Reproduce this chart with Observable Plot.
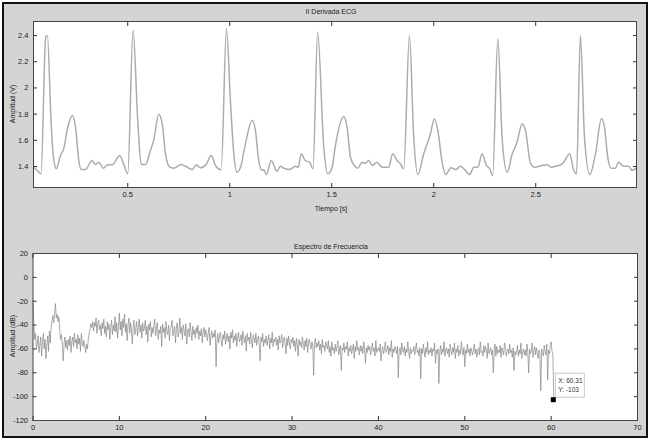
<!DOCTYPE html>
<html><head><meta charset="utf-8">
<script src="https://cdn.jsdelivr.net/npm/d3@7"></script>
<script src="https://cdn.jsdelivr.net/npm/@observablehq/plot@0.6"></script>
<style>
html,body{margin:0;padding:0;background:#fff;}
#fig{position:relative;width:650px;height:440px;overflow:hidden;background:#fff;}
#panel{position:absolute;left:2px;top:2px;width:642px;height:432px;border:2px solid #111;background:#d4d4d4;}
.lbl{position:absolute;font-family:"Liberation Sans",Arial,sans-serif;font-size:7px;color:#222;white-space:nowrap;transform:translate(-50%,-50%);}
.rot{transform:translate(-50%,-50%) rotate(-90deg);}
#fig svg{position:absolute;left:0;}
</style></head>
<body>
<div id="fig"><div id="panel"></div></div>
<script>
// ---- Top panel: II Derivada ECG ----
const ecgTitle = "II Derivada ECG";
const ecgXLabel = "Tiempo [s]";
const ecgYLabel = "Amplitud (V)";
const ecgXTicks = [0.5, 1, 1.5, 2, 2.5];
const ecgYTicks = [1.4, 1.6, 1.8, 2, 2.2, 2.4];
const ecgTime = [0.039,0.056,0.075,0.098,0.106,0.124,0.134,0.150,0.170,0.186,0.206,0.228,0.244,0.260,0.272,0.293,0.325,0.342,0.358,0.380,0.402,0.424,0.461,0.480,0.500,
 0.526,0.549,0.566,0.587,0.611,0.627,0.652,0.669,0.685,0.706,0.725,0.762,0.783,0.816,0.837,0.856,0.886,0.909,0.930,0.958,
 0.984,1.004,1.020,1.034,1.053,1.072,1.110,1.126,1.142,1.159,1.167,1.180,1.203,1.232,1.248,1.265,1.294,1.322,1.335,1.351,1.370,1.392,1.408,
 1.431,1.461,1.480,1.502,1.518,1.559,1.575,1.592,1.611,1.627,1.649,1.665,1.681,1.698,1.722,1.747,1.779,1.799,1.820,1.837,1.853,
 1.881,1.902,1.922,1.951,1.984,2.003,2.020,2.041,2.058,2.085,2.107,2.131,2.151,2.177,2.196,2.216,2.237,2.258,2.275,2.289,
 2.314,2.336,2.360,2.385,2.406,2.434,2.450,2.475,2.495,2.531,2.556,2.575,2.597,2.630,2.667,2.684,2.700,
 2.719,2.739,2.765,2.793,2.822,2.837,2.853,2.870,2.890,2.907,2.931,2.956,2.972,2.994];
const ecgVolt = [1.395,1.37,1.344,2.39,2.40,1.75,1.497,1.383,1.484,1.535,1.70,1.79,1.70,1.446,1.377,1.377,1.446,1.415,1.433,1.387,1.413,1.413,1.484,1.42,1.344,
 2.443,1.751,1.42,1.415,1.522,1.60,1.80,1.726,1.497,1.395,1.387,1.415,1.402,1.377,1.413,1.39,1.42,1.484,1.408,1.375,
 2.451,1.879,1.497,1.357,1.395,1.535,1.751,1.675,1.446,1.37,1.375,1.339,1.446,1.364,1.402,1.387,1.377,1.402,1.395,1.497,1.446,1.433,1.383,
 2.425,1.547,1.344,1.395,1.56,1.782,1.70,1.471,1.408,1.387,1.433,1.425,1.446,1.408,1.433,1.395,1.395,1.497,1.446,1.42,1.383,
 2.40,1.624,1.339,1.497,1.65,1.764,1.675,1.433,1.339,1.39,1.377,1.402,1.377,1.339,1.395,1.395,1.497,1.408,1.383,1.331,
 2.375,1.60,1.357,1.497,1.573,1.726,1.675,1.42,1.395,1.408,1.413,1.395,1.402,1.42,1.497,1.383,1.344,
 2.40,1.624,1.339,1.497,1.764,1.70,1.471,1.387,1.387,1.433,1.402,1.402,1.37,1.39];

// ---- Bottom panel: Espectro de Frecuencia ----
const specTitle = "Espectro de Frecuencia";
const specYLabel = "Amplitud (dB)";
const specXTicks = [0, 10, 20, 30, 40, 50, 60, 70];
const specYTicks = [-120, -100, -80, -60, -40, -20, 0, 20];
const specStep = 0.1; // Hz between spectrum samples, one row = 1 Hz
const specDb = [
 -22,-40,-52,-47,-60,-55,-49,-63,-56,-50,
 -66,-54,-47,-60,-52,-68,-57,-49,-62,-45,
 -55,-42,-36,-32,-38,-30,-22,-34,-31,-37,
 -33,-45,-52,-48,-57,-70,-55,-50,-59,-53,
 -61,-52,-57,-49,-63,-54,-50,-58,-47,-55,
 -52,-60,-48,-56,-51,-62,-47,-55,-58,-53,
 -58,-63,-56,-60,-52,-47,-44,-39,-42,-37,
 -45,-38,-41,-34,-47,-39,-36,-44,-40,-49,
 -38,-43,-35,-47,-41,-50,-37,-44,-39,-52,
 -42,-36,-48,-40,-45,-33,-46,-38,-51,-41,
 -30,-44,-37,-49,-35,-42,-31,-46,-39,-53,
 -40,-34,-47,-38,-44,-56,-41,-36,-48,-43,
 -37,-49,-42,-35,-46,-40,-51,-38,-45,-43,
 -36,-48,-41,-54,-39,-44,-37,-50,-42,-47,
 -40,-35,-49,-43,-38,-52,-44,-47,-41,-58,
 -39,-46,-42,-51,-37,-45,-48,-40,-53,-44,
 -42,-36,-49,-45,-41,-55,-43,-38,-50,-46,
 -34,-47,-42,-52,-40,-45,-49,-39,-56,-44,
 -43,-50,-38,-46,-53,-41,-48,-44,-51,-42,
 -47,-40,-52,-45,-49,-43,-55,-46,-42,-50,
 -44,-48,-53,-46,-42,-57,-49,-45,-51,-47,
 -50,-44,-75,-52,-47,-55,-49,-46,-53,-58,
 -48,-52,-45,-56,-50,-47,-54,-49,-60,-46,
 -51,-44,-55,-49,-53,-47,-58,-50,-46,-54,
 -52,-48,-57,-45,-51,-55,-49,-62,-47,-53,
 -50,-56,-46,-53,-59,-48,-51,-55,-47,-57,
 -52,-49,-56,-70,-50,-54,-47,-58,-52,-55,
 -49,-57,-53,-48,-60,-51,-55,-46,-58,-52,
 -54,-50,-57,-52,-61,-49,-55,-53,-48,-59,
 -53,-50,-56,-64,-51,-57,-49,-55,-60,-52,
 -55,-50,-58,-53,-62,-51,-56,-66,-52,-57,
 -54,-59,-50,-56,-61,-53,-58,-51,-63,-55,
 -52,-57,-60,-54,-58,-82,-56,-51,-59,-55,
 -58,-53,-61,-56,-64,-52,-59,-57,-62,-54,
 -57,-60,-53,-63,-58,-66,-54,-61,-59,-64,
 -56,-62,-58,-53,-65,-60,-57,-78,-59,-61,
 -55,-63,-58,-60,-54,-66,-59,-62,-57,-64,
 -60,-56,-68,-58,-62,-53,-61,-59,-65,-57,
 -62,-58,-64,-54,-60,-72,-59,-63,-57,-61,
 -58,-65,-60,-55,-62,-59,-66,-53,-63,-60,
 -59,-62,-56,-70,-61,-58,-64,-60,-54,-63,
 -61,-57,-65,-59,-62,-53,-67,-60,-63,-58,
 -60,-64,-58,-84,-62,-59,-65,-55,-61,-63,
 -58,-66,-60,-63,-54,-62,-68,-59,-64,-61,
 -62,-58,-65,-60,-55,-63,-61,-66,-59,-85,
 -60,-64,-56,-62,-67,-59,-63,-54,-65,-61,
 -63,-59,-66,-60,-62,-55,-72,-61,-64,-60,
 -89,-62,-57,-65,-60,-63,-54,-66,-61,-59,
 -64,-60,-67,-56,-62,-65,-59,-63,-55,-68,
 -60,-63,-57,-66,-61,-64,-54,-62,-65,-59,
 -75,-61,-64,-56,-63,-60,-66,-59,-62,-65,
 -61,-56,-64,-60,-67,-62,-59,-65,-54,-63,
 -62,-66,-57,-63,-58,-61,-68,-55,-64,-62,
 -59,-65,-61,-80,-63,-56,-66,-58,-64,-61,
 -63,-57,-67,-59,-62,-65,-55,-58,-66,-62,
 -60,-64,-56,-63,-61,-67,-59,-78,-62,-65,
 -63,-57,-66,-61,-64,-55,-68,-62,-60,-65,
 -61,-66,-56,-63,-80,-60,-64,-62,-55,-67,
 -62,-58,-65,-59,-63,-68,-61,-64,-95,-60,
 -63,-66,-57,-62,-65,-56,-86,-61,-64,-57,
 -54,-62,-64];
const tipX = [60.31];
const tipY = [-103];
const tipLabel = ["X: 60.31", "Y: -103"];

const specFreq = specDb.map((_, i) => +(i * specStep).toFixed(2)).concat(tipX);
const specVals = specDb.concat(tipY);

const font = '"Liberation Sans", Arial, sans-serif';
const baseStyle = {background: "transparent", fontFamily: font, fontSize: "7.5px", color: "#222", overflow: "visible"};
const fmt = d => String(d);

function axes(xt, yt) {
  return [
    Plot.axisX(xt, {anchor: "bottom", tickSize: -4, tickPadding: 8, tickFormat: fmt, label: null, stroke: "#333"}),
    Plot.axisX(xt, {anchor: "top", tickSize: -4, tickFormat: () => "", label: null, stroke: "#333"}),
    Plot.axisY(yt, {anchor: "left", tickSize: -4, tickPadding: 9, tickFormat: fmt, label: null, stroke: "#333"}),
    Plot.axisY(yt, {anchor: "right", tickSize: -4, tickFormat: () => "", label: null, stroke: "#333"})
  ];
}

const topChart = Plot.plot({
  width: 650, height: 220,
  marginTop: 21, marginBottom: 33, marginLeft: 33, marginRight: 14,
  style: baseStyle,
  x: {domain: [0.038, 2.994]},
  y: {domain: [1.24, 2.507]},
  marks: [
    Plot.frame({fill: "white"}),
    Plot.line(ecgVolt, {x: ecgTime, y: ecgVolt, stroke: "#acacac", strokeWidth: 1.5, curve: "monotone-x"}),
    ...axes(ecgXTicks, ecgYTicks),
    Plot.frame({stroke: "#444"})
  ]
});

function dataTip(index, scales) {
  const px = scales.x(tipX[0]), py = scales.y(tipY[0]);
  const g = d3.create("svg:g").attr("text-anchor", "start");
  g.append("rect").attr("x", px + 2).attr("y", py - 26.5).attr("width", 29).attr("height", 24)
    .attr("fill", "#fff").attr("stroke", "#c8c8c8").attr("stroke-width", 1);
  tipLabel.forEach((t, i) => {
    g.append("text").attr("x", px + 5).attr("y", py - 17 + i * 9).attr("font-size", 6.5)
      .attr("text-anchor", "start").attr("font-family", font).attr("fill", "#333").text(t);
  });
  g.append("rect").attr("x", px - 2.5).attr("y", py - 2.5).attr("width", 5).attr("height", 5).attr("fill", "#000");
  return g.node();
}

const botChart = Plot.plot({
  width: 650, height: 220,
  marginTop: 33, marginBottom: 20, marginLeft: 32.5, marginRight: 13,
  style: baseStyle,
  x: {domain: [0, 70]},
  y: {domain: [-120, 20]},
  marks: [
    Plot.frame({fill: "white"}),
    Plot.line(specVals, {x: specFreq, y: specVals, stroke: "#858585", strokeWidth: 0.7}),
    ...axes(specXTicks, specYTicks),
    Plot.frame({stroke: "#444"}),
    dataTip
  ]
});

const fig = document.getElementById("fig");
topChart.style.top = "0px";
botChart.style.top = "220px";
fig.appendChild(topChart);
fig.appendChild(botChart);

function addLabel(text, x, y, rot) {
  const d = document.createElement("div");
  d.className = "lbl" + (rot ? " rot" : "");
  d.style.left = x + "px"; d.style.top = y + "px";
  d.textContent = text;
  fig.appendChild(d);
}
addLabel(ecgTitle, 331, 11);
addLabel(ecgXLabel, 331, 208);
addLabel(ecgYLabel, 12, 104, true);
addLabel(specTitle, 331, 246);
addLabel(specYLabel, 12, 336, true);
</script>
</body></html>
